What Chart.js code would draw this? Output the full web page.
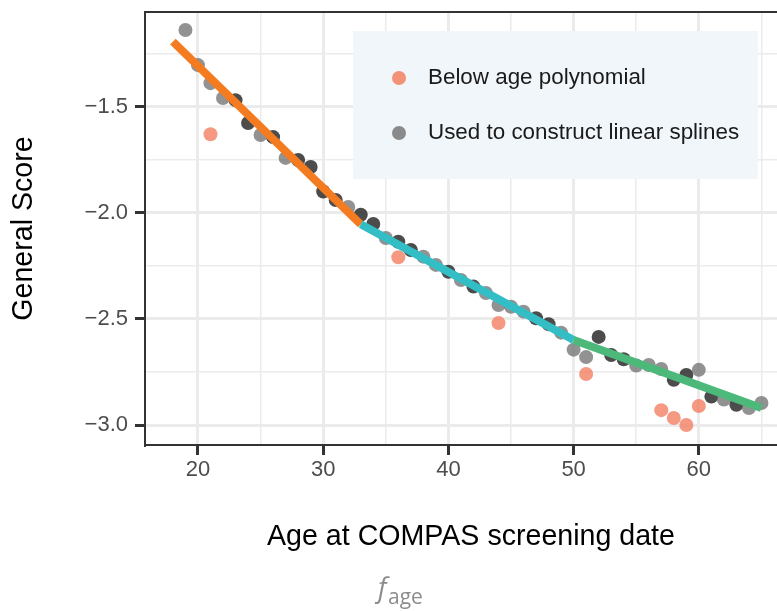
<!DOCTYPE html>
<html>
<head>
<meta charset="utf-8">
<script src="https://cdn.jsdelivr.net/npm/chart.js@4.4.1/dist/chart.umd.min.js"></script>
<style>
  html, body { margin: 0; padding: 0; background: #fff; overflow: hidden; }
  /* the panel runs on past the right edge, so the canvas is wider than the frame */
  #wrap { width: 777px; height: 611px; overflow: hidden; }
</style>
</head>
<body>
<div id="wrap"><canvas id="ageChart" width="797" height="611"></canvas></div>
<script>
  /* ========================
     DATA
  =========================*/
  // points used to construct the linear splines
  const splineAges = [
    19, 20, 21, 22, 23, 24, 25, 26, 27, 28, 29, 30, 31, 32, 33, 34,
    35, 36, 37, 38, 39, 40, 41, 42, 43, 44, 45, 46, 47, 48, 49, 50,
    51, 52, 53, 54, 55, 56, 57, 58, 59, 60, 61, 62, 63, 64, 65
  ];
  const splineScores = [
    -1.14, -1.305, -1.39, -1.46, -1.47, -1.578, -1.634, -1.644, -1.742, -1.752, -1.785, -1.90, -1.94, -1.973, -2.01, -2.053,
    -2.119, -2.137, -2.176, -2.207, -2.246, -2.278, -2.317, -2.348, -2.378, -2.435, -2.443, -2.466, -2.497, -2.525, -2.565, -2.645,
    -2.68, -2.585, -2.67, -2.69, -2.72, -2.717, -2.736, -2.787, -2.764, -2.74, -2.866, -2.88, -2.905, -2.92, -2.896
  ];
  // ages where several records sit on top of each other (drawn darker)
  const stackedAges = [23, 24, 26, 28, 29, 30, 31, 33, 34, 36, 37, 40, 42, 47, 48, 52, 53, 54, 58, 59, 61, 63];

  // points below the age polynomial
  const belowAges = [21, 36, 44, 51, 57, 58, 59, 60];
  const belowScores = [-1.631, -2.21, -2.52, -2.76, -2.93, -2.967, -3.0, -2.91];

  // spline knots
  const knotAges = [18, 33, 50, 65];
  const knotScores = [-1.195, -2.055, -2.60, -2.92];

  const xTicks = [20, 30, 40, 50, 60];
  const xTickLabels = ['20', '30', '40', '50', '60'];
  const xMinorTicks = [25, 35, 45, 55, 65];
  const yTicks = [-3.0, -2.5, -2.0, -1.5];
  const yTickLabels = ['\u22123.0', '\u22122.5', '\u22122.0', '\u22121.5'];
  const yMinorTicks = [-2.75, -2.25, -1.75, -1.25];

  const legendLabels = ['Below age polynomial', 'Used to construct linear splines'];

  /* ========================
     STYLE
  =========================*/
  const FONT = "'Liberation Sans', Arial, Helvetica, sans-serif";
  const segmentColors = ['#F47B20', '#33BEC6', '#4CB97A'];
  const grayLight = 'rgba(110, 110, 110, 0.75)';
  const grayDark = 'rgba(45, 45, 45, 0.85)';
  const coral = 'rgba(243, 128, 100, 0.8)';

  const isMajor = (list, v) => list.some(t => Math.abs(t - v) < 1e-6);

  const toPoints = (xs, ys) => xs.map((x, i) => ({ x: x, y: ys[i] }));

  /* ========================
     PLUGINS
  =========================*/
  // top edge of the panel
  const panelFrame = {
    id: 'panelFrame',
    afterDatasetsDraw(chart) {
      const { ctx, chartArea } = chart;
      ctx.save();
      ctx.strokeStyle = '#333333';
      ctx.lineWidth = 2;
      ctx.beginPath();
      ctx.moveTo(chartArea.left - 1, chartArea.top);
      ctx.lineTo(chartArea.right, chartArea.top);
      ctx.stroke();
      ctx.restore();
    }
  };

  // legend box inside the panel
  const insideLegend = {
    id: 'insideLegend',
    afterDatasetsDraw(chart) {
      const { ctx } = chart;
      ctx.save();
      ctx.fillStyle = '#F1F6FA';
      ctx.fillRect(353, 31, 405, 148);
      const rows = [
        { y: 78, color: 'rgba(243, 140, 112, 0.95)', text: legendLabels[0] },
        { y: 133, color: '#8A8A8A', text: legendLabels[1] }
      ];
      rows.forEach(r => {
        ctx.fillStyle = r.color;
        ctx.beginPath();
        ctx.arc(399, r.y, 7, 0, Math.PI * 2);
        ctx.fill();
        ctx.fillStyle = '#1A1A1A';
        ctx.font = '22.4px ' + FONT;
        ctx.textBaseline = 'middle';
        ctx.textAlign = 'left';
        ctx.fillText(r.text, 428, r.y);
      });
      ctx.restore();
    }
  };

  // caption under the axis title
  const caption = {
    id: 'caption',
    afterDraw(chart) {
      const { ctx } = chart;
      ctx.save();
      ctx.fillStyle = '#8C8C8C';
      ctx.textBaseline = 'alphabetic';
      ctx.textAlign = 'left';
      ctx.font = 'italic 27px ' + "'Open Sans', 'DejaVu Sans', sans-serif";
      ctx.fillText('f', 378, 597);
      ctx.font = "21px 'Open Sans', 'DejaVu Sans', sans-serif";
      ctx.fillText('age', 388, 604);
      ctx.restore();
    }
  };

  /* ========================
     CHART
  =========================*/
  const ctxAge = document.getElementById('ageChart').getContext('2d');

  const dataAge = {
    datasets: [
      {
        type: 'line',
        label: 'Linear splines',
        data: toPoints(knotAges, knotScores),
        borderColor: segmentColors[0],
        borderWidth: 8,
        borderCapStyle: 'butt',
        pointRadius: 0,
        fill: false,
        tension: 0,
        segment: {
          borderColor: c => segmentColors[c.p0DataIndex]
        }
      },
      {
        type: 'scatter',
        label: legendLabels[0],
        data: toPoints(belowAges, belowScores),
        backgroundColor: coral,
        borderWidth: 0,
        pointRadius: 7
      },
      {
        type: 'scatter',
        label: legendLabels[1],
        data: toPoints(splineAges, splineScores),
        backgroundColor: c => (c.raw && stackedAges.includes(c.raw.x)) ? grayDark : grayLight,
        borderWidth: 0,
        pointRadius: 7
      }
    ]
  };

  const configAge = {
    type: 'scatter',
    data: dataAge,
    options: {
      responsive: false,
      animation: false,
      layout: { autoPadding: false, padding: { top: 12, right: 0, left: 0, bottom: 0 } },
      scales: {
        x: {
          type: 'linear',
          min: 15.77,
          max: 67.84,
          afterFit: s => {
            s.height = 166;
            s.paddingLeft = 0;
            s.paddingRight = 0;
          },
          afterBuildTicks: s => {
            s.ticks = xTicks.concat(xMinorTicks).sort((a, b) => a - b).map(v => ({ value: v }));
          },
          ticks: {
            autoSkip: false,
            maxRotation: 0,
            padding: 2,
            color: '#4D4D4D',
            font: { family: FONT, size: 22 },
            callback: v => {
              const i = xTicks.findIndex(t => Math.abs(t - v) < 1e-6);
              return i >= 0 ? xTickLabels[i] : '';
            }
          },
          grid: {
            color: '#EBEBEB',
            lineWidth: c => isMajor(xTicks, c.tick.value) ? 3 : 1.5,
            tickColor: c => isMajor(xTicks, c.tick.value) ? '#333333' : 'rgba(0,0,0,0)',
            tickWidth: 3,
            tickLength: 10
          },
          border: { display: true, color: '#333333', width: 2 },
          title: {
            display: true,
            text: 'Age at COMPAS screening date',
            color: '#000',
            font: { family: FONT, size: 28.6 },
            padding: { top: 0, bottom: 57 }
          }
        },
        y: {
          type: 'linear',
          min: -3.094,
          max: -1.055,
          afterFit: s => {
            s.width = 145;
            s.paddingTop = 0;
            s.paddingBottom = 0;
          },
          afterBuildTicks: s => {
            s.ticks = yTicks.concat(yMinorTicks).sort((a, b) => a - b).map(v => ({ value: v }));
          },
          ticks: {
            autoSkip: false,
            padding: 7,
            color: '#4D4D4D',
            font: { family: FONT, size: 22 },
            callback: v => {
              const i = yTicks.findIndex(t => Math.abs(t - v) < 1e-6);
              return i >= 0 ? yTickLabels[i] : '';
            }
          },
          grid: {
            color: '#EBEBEB',
            lineWidth: c => isMajor(yTicks, c.tick.value) ? 3 : 1.5,
            tickColor: c => isMajor(yTicks, c.tick.value) ? '#333333' : 'rgba(0,0,0,0)',
            tickWidth: 3,
            tickLength: 10
          },
          border: { display: true, color: '#333333', width: 2 },
          title: {
            display: true,
            text: 'General Score',
            color: '#000',
            font: { family: FONT, size: 28.6 },
            padding: { top: 7, bottom: 0 }
          }
        }
      },
      plugins: {
        legend: { display: false },
        tooltip: { enabled: false }
      }
    },
    plugins: [panelFrame, insideLegend, caption]
  };

  new Chart(ctxAge, configAge);
</script>
</body>
</html>
